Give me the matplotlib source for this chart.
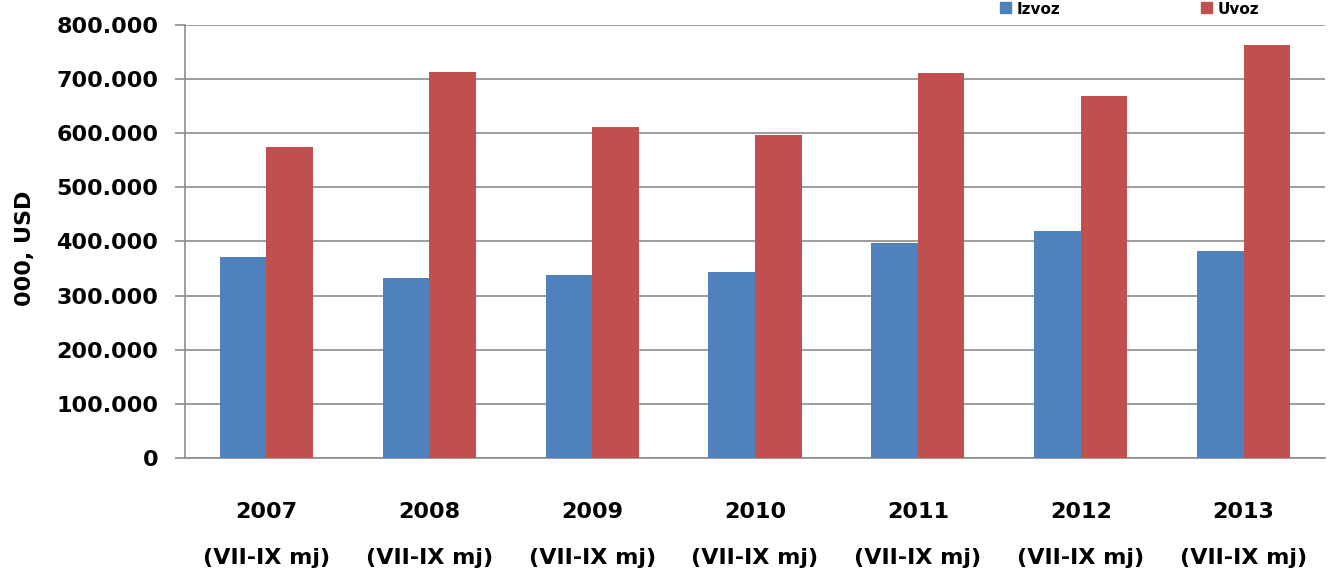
import matplotlib
matplotlib.use("Agg")
import matplotlib.pyplot as plt
import numpy as np
from matplotlib.patches import Rectangle

years = ["2007", "2008", "2009", "2010", "2011", "2012", "2013"]
period = "(VII-IX mj)"
izvoz = [371, 332, 338, 344, 397, 419, 382]
uvoz = [575, 713, 611, 597, 711, 668, 762]
series_names = ["Izvoz", "Uvoz"]
yticks = [0, 100, 200, 300, 400, 500, 600, 700, 800]
ytick_labels = ["0", "100.000", "200.000", "300.000", "400.000",
                "500.000", "600.000", "700.000", "800.000"]
ylabel = "000, USD"

blue = "#4F81BD"
red = "#C0504D"
grid_c = "#8C8C8C"

W, H = 1328, 574
fig = plt.figure(figsize=(W / 100, H / 100), dpi=100)
ax = fig.add_axes([185 / W, 1 - 458 / H, (1325 - 185) / W, (458 - 24.7) / H])

x = np.arange(len(years))
bw = 1 / 3.5
ax.bar(x - bw / 2, izvoz, width=bw, color=blue, zorder=3, label=series_names[0])
ax.bar(x + bw / 2, uvoz, width=bw, color=red, zorder=3, label=series_names[1])

ax.set_xlim(-0.5, len(years) - 0.5)
ax.set_ylim(0, 800)
ax.set_yticks(yticks)
ax.set_yticklabels(ytick_labels)
ax.set_xticks(x)
ax.set_xticklabels([f"{y}\n{period}" for y in years], linespacing=2.6)

for lab in ax.get_xticklabels() + ax.get_yticklabels():
    lab.set_fontweight("bold")
    lab.set_fontsize(16)
    lab.set_family("DejaVu Sans")

ax.yaxis.grid(True, color=grid_c, linewidth=1.2, zorder=0)
ax.set_axisbelow(True)
for s in ["top", "right"]:
    ax.spines[s].set_visible(False)
ax.spines["left"].set_color(grid_c)
ax.spines["bottom"].set_color(grid_c)
ax.spines["left"].set_linewidth(1.2)
ax.spines["bottom"].set_linewidth(1.2)
ax.tick_params(axis="y", length=7.2, width=1.2, color=grid_c, pad=12)
ax.tick_params(axis="x", length=0, pad=32)

fig.text(25 / W, 1 - 248 / H, ylabel, rotation=90, ha="center", va="center",
         fontsize=16, fontweight="bold")

# legend at the very top right
fig.patches.append(Rectangle((1000 / W, 1 - 13 / H), 11 / W, 11 / H,
                             transform=fig.transFigure, color=blue))
fig.patches.append(Rectangle((1201 / W, 1 - 13 / H), 11 / W, 11 / H,
                             transform=fig.transFigure, color=red))
fig.text(1017 / W, 1 - 14 / H, series_names[0], ha="left", va="baseline",
         fontsize=11, fontweight="bold")
fig.text(1218 / W, 1 - 14 / H, series_names[1], ha="left", va="baseline",
         fontsize=11, fontweight="bold")

fig.savefig("out.png", dpi=100)
